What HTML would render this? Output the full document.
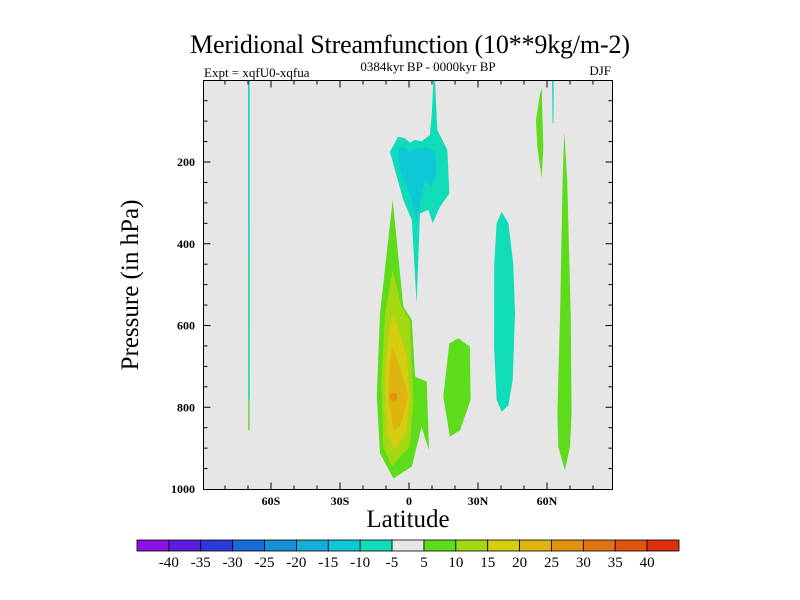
<!DOCTYPE html>
<html><head><meta charset="utf-8"><style>
html,body{margin:0;padding:0;background:#fff;}
svg{display:block;font-family:"Liberation Serif",serif;}
</style></head><body>
<svg id="chart" width="800" height="600" viewBox="0 0 800 600">
<text x="410" y="53" text-anchor="middle" font-size="26" textLength="440">Meridional Streamfunction (10**9kg/m-2)</text>
<text x="204" y="77" font-size="13">Expt = xqfU0-xqfua</text>
<text x="428" y="71" text-anchor="middle" font-size="13">0384kyr BP - 0000kyr BP</text>
<text x="611" y="75" text-anchor="end" font-size="13">DJF</text>
<rect x="203.5" y="80.5" width="409" height="409" fill="#e6e6e6"/>
<g id="fills"></g>
<g id="axes"></g>
<rect x="203.5" y="80.5" width="409" height="409" fill="none" stroke="#000" stroke-width="1"/>
<text transform="translate(138,285) rotate(-90)" text-anchor="middle" font-size="25">Pressure (in hPa)</text>
<text x="408" y="527" text-anchor="middle" font-size="25">Latitude</text>
<g id="colorbar"></g>
</svg>
<script>
const NS="http://www.w3.org/2000/svg";
const xTicks=[-60,-30,0,30,60];
const xTickLabels=["60S","30S","0","30N","60N"];
const yTicks=[200,400,600,800,1000];
const levelLabels=["-40","-35","-30","-25","-20","-15","-10","-5","5","10","15","20","25","30","35","40"];
const levelColors=["#8a12e0","#5a1ce0","#2a3ad8","#1a6ad8","#1690d8","#14aed8","#0ec8d8","#10dcb8","#e6e6e6","#5cdc1a","#a4d812","#d6cc10","#e0b410","#e09410","#e07410","#e05410","#e02e10"];
// contour regions: [lat, pressure] pairs
const greenMain=[[-7.1,293],[-2.5,554],[1.2,586],[2.6,725],[7.7,737],[8.7,905],[5.5,848],[1.2,945],[-6.8,974],[-12.6,913],[-14,774],[-12.6,570]];
const yg1=[[-7.1,464],[-3.2,554],[0.4,587],[1.2,709],[1.9,782],[0.4,897],[-3.9,921],[-7.5,945],[-11.2,897],[-11.9,733],[-10.4,570]];
const yel1=[[-7.1,570],[-3.9,619],[-1,676],[0.4,774],[-1,856],[-6.1,905],[-9.7,864],[-10.4,733],[-9,619]];
const gold1=[[-7.5,652],[-3.9,701],[-0.3,774],[-3.9,848],[-6.8,856],[-9,774],[-8.3,693]];
const tealUpper=[[10.6,0],[11.3,0],[12.3,122],[16.7,171],[17.5,277],[13.5,309],[10.3,350],[8.4,317],[4.8,326],[3.3,546],[1.2,342],[-2.5,293],[-8.3,175],[-4.7,138],[-1.7,142],[0.4,153],[2.6,146],[5.5,149],[9.1,134],[9.9,81]];
const cyanUpper=[[-5.3,167],[-2.5,163],[0.4,175],[2.6,167],[7.7,163],[11.3,175],[12,228],[9.9,260],[7,244],[3.3,342],[0.4,277],[-3.9,220]];
const green20N=[[21.4,631],[26.5,652],[26.8,782],[22.2,856],[17.8,872],[14.9,774],[17.5,644]];
const teal40N=[[40.3,322],[43.2,350],[45.3,448],[46.1,570],[45.1,733],[43.2,795],[40.3,811],[38.1,782],[37,652],[37.1,448],[38.1,350]];
const green55N=[[57,32],[57.7,20],[58.4,163],[57.7,240],[55.8,163],[55.2,97]];
const teal62N=[[62.2,0],[62.9,0],[62.8,105],[62.4,105]];
const green70N=[[67.5,126],[68.8,244],[70.3,570],[70.7,815],[70,897],[67.8,954],[64.9,897],[64.5,815],[65.7,570],[66.8,244]];
const teal70S=[[-70.0,0],[-69.3,0],[-69.3,856],[-69.9,856]];
const regions=[
 {name:"green-band-70s",pts:teal70S,c:9},
 {name:"teal-band-70s",pts:teal70S.map(p=>[p[0],Math.min(p[1],780)]),c:7},
 {name:"green-cell-equator",pts:greenMain,c:9},
 {name:"yellowgreen-cell-equator",pts:yg1,c:10},
 {name:"yellow-cell-equator",pts:yel1,c:11},
 {name:"gold-cell-equator",pts:gold1,c:12},
 {name:"teal-cell-upper",pts:tealUpper,c:7},
 {name:"cyan-cell-upper",pts:cyanUpper,c:6},
 {name:"green-cell-20n",pts:green20N,c:9},
 {name:"teal-cell-40n",pts:teal40N,c:7},
 {name:"green-cell-55n",pts:green55N,c:9},
 {name:"teal-band-62n",pts:teal62N,c:7},
 {name:"green-cell-70n",pts:green70N,c:9}
];
const peak=[-6.7,774];
function X(lat){return 409+lat*2.3;}
function Y(p){return 80.25+p*0.40875;}
function mk(tag,attrs,parent){const e=document.createElementNS(NS,tag);for(const k in attrs)e.setAttribute(k,attrs[k]);parent.appendChild(e);return e;}
const fills=document.getElementById('fills');
regions.forEach(r=>{
 const e=mk('polygon',{points:r.pts.map(p=>X(p[0]).toFixed(1)+','+Y(p[1]).toFixed(1)).join(' '),fill:levelColors[r.c]},fills);
 
 
});
const pk=mk('circle',{cx:X(peak[0]),cy:Y(peak[1]),r:4,fill:levelColors[13]},fills);


const axes=document.getElementById('axes');
for(let lat=-80;lat<=80;lat+=10){
 const x=X(lat);if(x<204||x>612)continue;
 const major=lat%30===0;const L=major?7:4;
 mk('line',{x1:x,y1:489.5,x2:x,y2:489.5-L,stroke:'#000'},axes);
 mk('line',{x1:x,y1:80.5,x2:x,y2:80.5+L,stroke:'#000'},axes);
}
xTicks.forEach((t,i)=>{const e=mk('text',{x:X(t),y:505,'text-anchor':'middle','font-size':12,'font-weight':'bold'},axes);e.textContent=xTickLabels[i];
 
 });
for(let p=50;p<1000;p+=50){
 const y=Y(p);const major=p%200===0;const L=major?7:4;
 mk('line',{x1:203.5,y1:y,x2:203.5+L,y2:y,stroke:'#000'},axes);
 mk('line',{x1:612.5,y1:y,x2:612.5-L,y2:y,stroke:'#000'},axes);
}
yTicks.forEach(t=>{const e=mk('text',{x:195,y:Y(t)+4,'text-anchor':'end','font-size':12,'font-weight':'bold'},axes);e.textContent=t;
 
 });
const cb=document.getElementById('colorbar');
const cbx=137,cbw=542/17;
levelColors.forEach((c,i)=>{const e=mk('rect',{x:cbx+i*cbw,y:540,width:cbw,height:11,fill:c,stroke:'#000','stroke-width':0.8},cb);
 
 });
levelLabels.forEach((l,i)=>{const e=mk('text',{x:cbx+(i+1)*cbw,y:567,'text-anchor':'middle','font-size':15},cb);e.textContent=l;
 
 });
</script>
</body></html>
